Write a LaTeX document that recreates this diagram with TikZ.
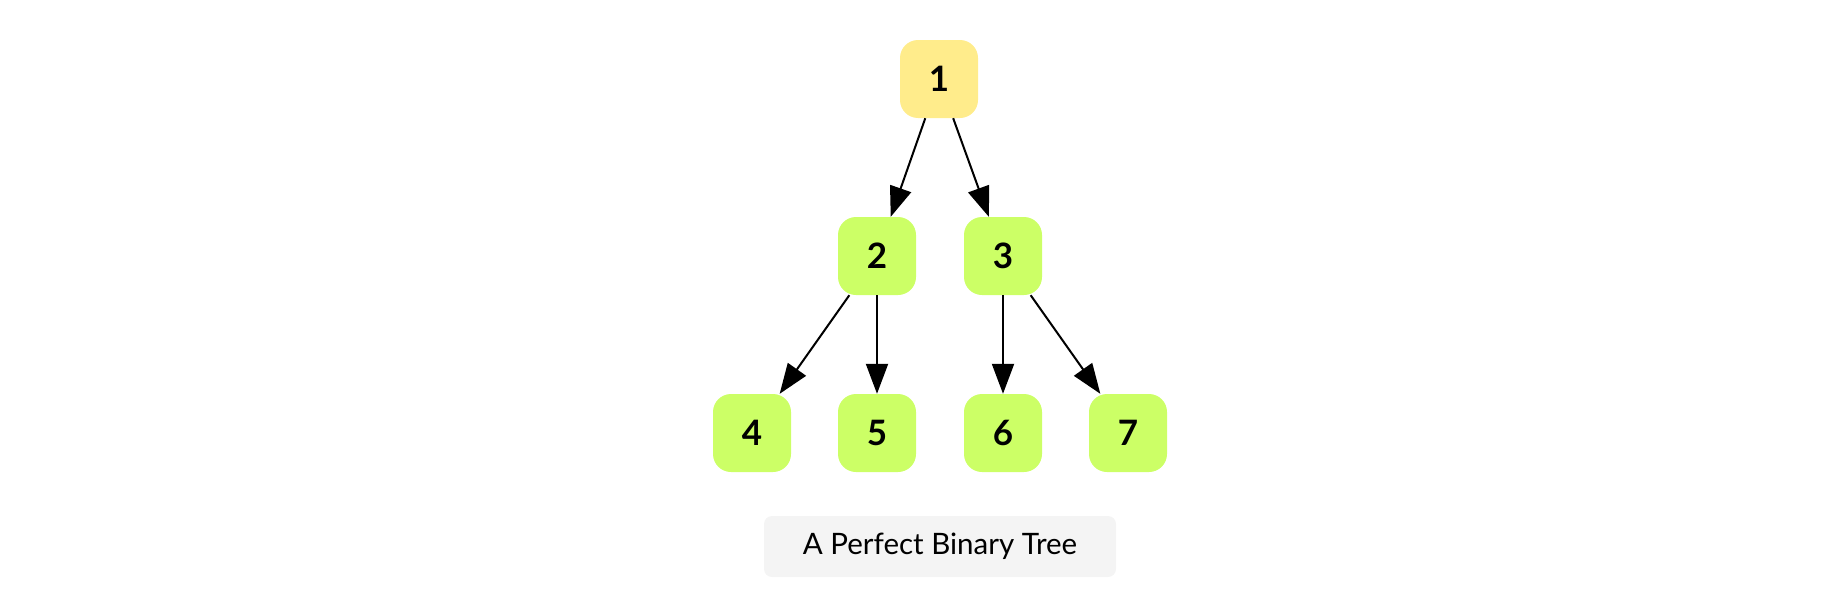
\documentclass[tikz,border=0pt]{standalone}
\usepackage{fontspec}
\setmainfont{Lato}
\usetikzlibrary{arrows.meta}
\definecolor{rootfill}{HTML}{FFEC8B}
\definecolor{leaffill}{HTML}{CCFF66}
\definecolor{capfill}{HTML}{F4F4F4}
\tikzset{
  treenode/.style={rectangle, rounded corners=18pt, minimum width=78pt, minimum height=78pt, inner sep=0pt, font=\fontsize{35}{35}\selectfont\bfseries},
  rootnode/.style={treenode, fill=rootfill},
  childnode/.style={treenode, fill=leaffill},
  edge/.style={line width=2pt, -{Triangle[length=30pt,width=22pt]}},
  captionbox/.style={rectangle, rounded corners=8pt, fill=capfill, minimum width=352pt, minimum height=61pt, inner sep=0pt, font=\fontsize{29.5}{29.5}\selectfont}
}
\begin{document}
\begin{tikzpicture}[x=1pt,y=-1pt]
\useasboundingbox (0,0) rectangle (1848,608);
\node[rootnode] (n1) at (939,79) {1};
\node[childnode] (n2) at (877,256) {2};
\node[childnode] (n3) at (1003,256) {3};
\node[childnode] (n4) at (752,433) {4};
\node[childnode] (n5) at (877,433) {5};
\node[childnode] (n6) at (1003,433) {6};
\node[childnode] (n7) at (1128,433) {7};
\draw[edge] (n1) -- (n2);
\draw[edge] (n1) -- (n3);
\draw[edge] (n2) -- (n4);
\draw[edge] (n2) -- (n5);
\draw[edge] (n3) -- (n6);
\draw[edge] (n3) -- (n7);
\node[captionbox] (cap) at (940,546.5) {A Perfect Binary Tree};
\end{tikzpicture}
\end{document}
